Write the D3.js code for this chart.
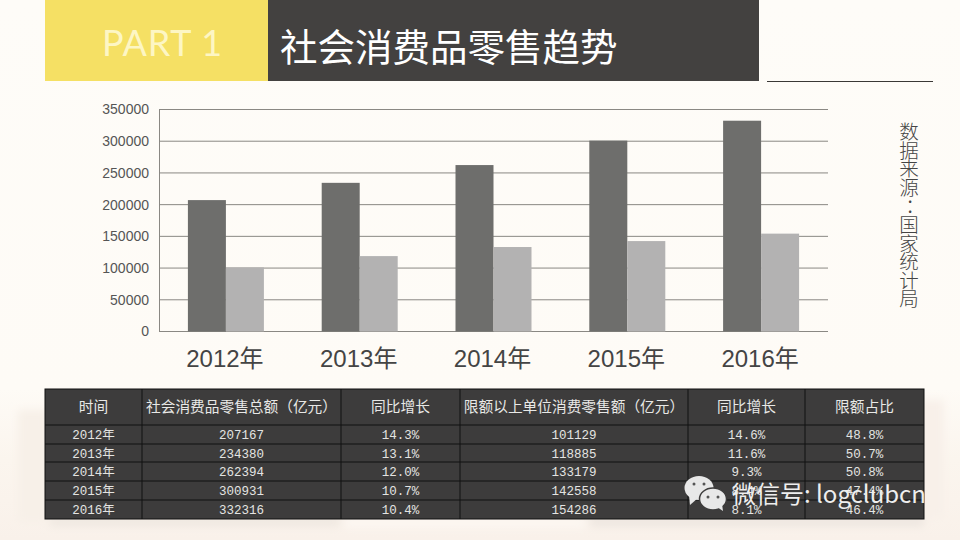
<!DOCTYPE html>
<html><head><meta charset="utf-8">
<script src="https://cdn.jsdelivr.net/npm/d3@7/dist/d3.min.js"></script>
<style>html,body{margin:0;padding:0;background:#fefcf8}svg{display:block}</style>
</head><body><svg id="c" width="960" height="540"></svg>
<script>
const years=["2012年","2013年","2014年","2015年","2016年"];
const totalSales=[207167,234380,262394,300931,332316];
const aboveLimitSales=[101129,118885,133179,142558,154286];
const yTicks=[0,50000,100000,150000,200000,250000,300000,350000];
const tableHeader=["时间","社会消费品零售总额（亿元）","同比增长","限额以上单位消费零售额（亿元）","同比增长","限额占比"];
const totalGrowth=["14.3%","13.1%","12.0%","10.7%","10.4%"];
const limitGrowth=["14.6%","11.6%","9.3%","8.4%","8.1%"];
const limitShare=["48.8%","50.7%","50.8%","47.4%","46.4%"];
const titleText="社会消费品零售趋势";
const sourceText=["数","据","来","源","：","国","家","统","计","局"];

const cjk='"Noto Sans CJK SC",sans-serif';
const svg=d3.select("#c");
const defs=svg.append("defs");
const g=defs.append("linearGradient").attr("id","bg").attr("x1",0).attr("x2",0).attr("y1",0).attr("y2",1);
g.append("stop").attr("offset",0).attr("stop-color","#fefcf8");
g.append("stop").attr("offset",.72).attr("stop-color","#fefbf6");
g.append("stop").attr("offset",.85).attr("stop-color","#fbf5ee");
g.append("stop").attr("offset",1).attr("stop-color","#f9f1ea");
defs.append("filter").attr("id","blur").attr("x","-30%").attr("y","-30%").attr("width","160%").attr("height","160%")
  .append("feGaussianBlur").attr("stdDeviation",4);
svg.append("rect").attr("width",960).attr("height",540).attr("fill","url(#bg)");

// soft paper blotches behind the table
const blotches=svg.append("g").attr("filter","url(#blur)");
blotches.append("rect").attr("x",18).attr("y",410).attr("width",30).attr("height",112).attr("fill","#f7f0e8");
blotches.append("rect").attr("x",920).attr("y",400).attr("width",24).attr("height",118).attr("fill","#f8f0e9");
blotches.append("rect").attr("x",50).attr("y",517).attr("width",290).attr("height",9).attr("fill","#eee7e0");
blotches.append("rect").attr("x",590).attr("y",517).attr("width",334).attr("height",9).attr("fill","#ece5df");
blotches.append("rect").attr("x",345).attr("y",518).attr("width",240).attr("height",9).attr("fill","#fdf8f3");

// header
svg.append("rect").attr("x",45).attr("y",0).attr("width",223).attr("height",81).attr("fill","#f5e064");
svg.append("rect").attr("x",268).attr("y",0).attr("width",491).attr("height",81).attr("fill","#434140");
svg.append("text").attr("x",102).attr("y",56).attr("font-family","Lato,sans-serif").attr("font-size",36).attr("fill","#fdf6c4").attr("letter-spacing",.8).text("PART 1");
svg.append("text").attr("x",280).attr("y",61).attr("font-family",cjk).attr("font-size",37.5).attr("fill","#fff").text(titleText);
svg.append("line").attr("x1",767).attr("x2",933).attr("y1",81.5).attr("y2",81.5).attr("stroke","#3a3836");

// chart
const x=d3.scaleBand().domain(years).range([159,828]).paddingInner(.432).paddingOuter(.216);
const y=d3.scaleLinear().domain([0,350000]).range([331.5,109.5]);
const bw=x.bandwidth()/2;
const ya=d3.axisLeft(y).tickValues(yTicks).tickFormat(d3.format("d")).tickSize(0).tickPadding(10);
const gy=svg.append("g").attr("transform","translate(159,0)").call(ya);
gy.select(".domain").attr("stroke","#8a8883");
gy.selectAll("text").attr("font-family","Liberation Sans,Arial,sans-serif").attr("font-size",14).attr("fill","#555");
svg.append("g").selectAll("line").data(yTicks).join("line")
 .attr("x1",159).attr("x2",828).attr("y1",d=>y(d)).attr("y2",d=>y(d)).attr("stroke","#8a8883");
svg.append("g").selectAll("rect").data(totalSales).join("rect")
 .attr("x",(d,i)=>x(years[i])).attr("width",bw).attr("y",d=>y(d)).attr("height",d=>y(0)-y(d)).attr("fill","#6e6e6c");
svg.append("g").selectAll("rect").data(aboveLimitSales).join("rect")
 .attr("x",(d,i)=>x(years[i])+bw).attr("width",bw).attr("y",d=>y(d)).attr("height",d=>y(0)-y(d)).attr("fill","#b3b2b2");
const xa=d3.axisBottom(x).tickSize(0).tickPadding(18);
const gx=svg.append("g").attr("transform","translate(-1,331.5)").call(xa);
gx.select(".domain").remove();
gx.selectAll("text").attr("font-family",'"Liberation Sans",'+cjk).attr("font-size",24).attr("fill","#444");

// source
svg.append("g").selectAll("text").data(sourceText).join("text")
 .attr("x",909).attr("y",(d,i)=>139+i*18.6).attr("dx",d=>d==="："?6:0).attr("text-anchor","middle")
 .attr("font-family",cjk).attr("font-size",19.5).attr("font-weight",300).attr("fill","#444").text(d=>d);

// table
const colX=[45,142,341,460,688,805,924];
const rowY=[389,425,444,462,481,500,519];
const rows=years.map((yr,i)=>[yr,totalSales[i],totalGrowth[i],aboveLimitSales[i],limitGrowth[i],limitShare[i]]);
svg.append("rect").attr("x",45).attr("y",389).attr("width",879).attr("height",130).attr("fill","#3d3c3c").attr("stroke","#111");
svg.append("g").selectAll("line").data(colX.slice(1,-1)).join("line").attr("x1",d=>d).attr("x2",d=>d).attr("y1",389).attr("y2",519).attr("stroke","#111");
svg.append("g").selectAll("line").data(rowY.slice(1,-1)).join("line").attr("x1",45).attr("x2",924).attr("y1",d=>d).attr("y2",d=>d).attr("stroke","#111");
svg.append("g").selectAll("text").data(tableHeader).join("text")
 .attr("x",(d,i)=>(colX[i]+colX[i+1])/2).attr("y",412).attr("text-anchor","middle")
 .attr("font-family",cjk).attr("font-size",14.7).attr("fill","#e8e8e6").text(d=>d);
rows.forEach((r,ri)=>{
 svg.append("g").selectAll("text").data(r).join("text")
  .attr("x",(d,i)=>(colX[i]+colX[i+1])/2).attr("y",rowY[ri+1]+14).attr("text-anchor","middle")
  .attr("font-family",'"Liberation Mono",'+cjk).attr("font-size",12.5).attr("fill","#e4e4e2").text(d=>d);
});

// watermark
const wm=svg.append("g");
wm.append("ellipse").attr("cx",699).attr("cy",488).attr("rx",14.5).attr("ry",12).attr("fill","#e8e8e8");
wm.append("path").attr("d","M689,495 L690,505 L698,498 Z").attr("fill","#e8e8e8");
wm.append("ellipse").attr("cx",713).attr("cy",499).attr("rx",13.5).attr("ry",11).attr("fill","#e8e8e8").attr("stroke","#3d3c3c").attr("stroke-width",1.5);
wm.append("path").attr("d","M717,507 L723,511 L722,504 Z").attr("fill","#e8e8e8");
wm.append("g").attr("fill","#555").selectAll("circle")
 .data([[694,484],[704,484],[708,497],[718,497]]).join("circle")
 .attr("cx",d=>d[0]).attr("cy",d=>d[1]).attr("r",1.5);
svg.append("text").attr("x",732).attr("y",503).attr("font-family",cjk).attr("font-size",24).attr("fill","#eee").text("微信号: logclubcn");
</script></body></html>
